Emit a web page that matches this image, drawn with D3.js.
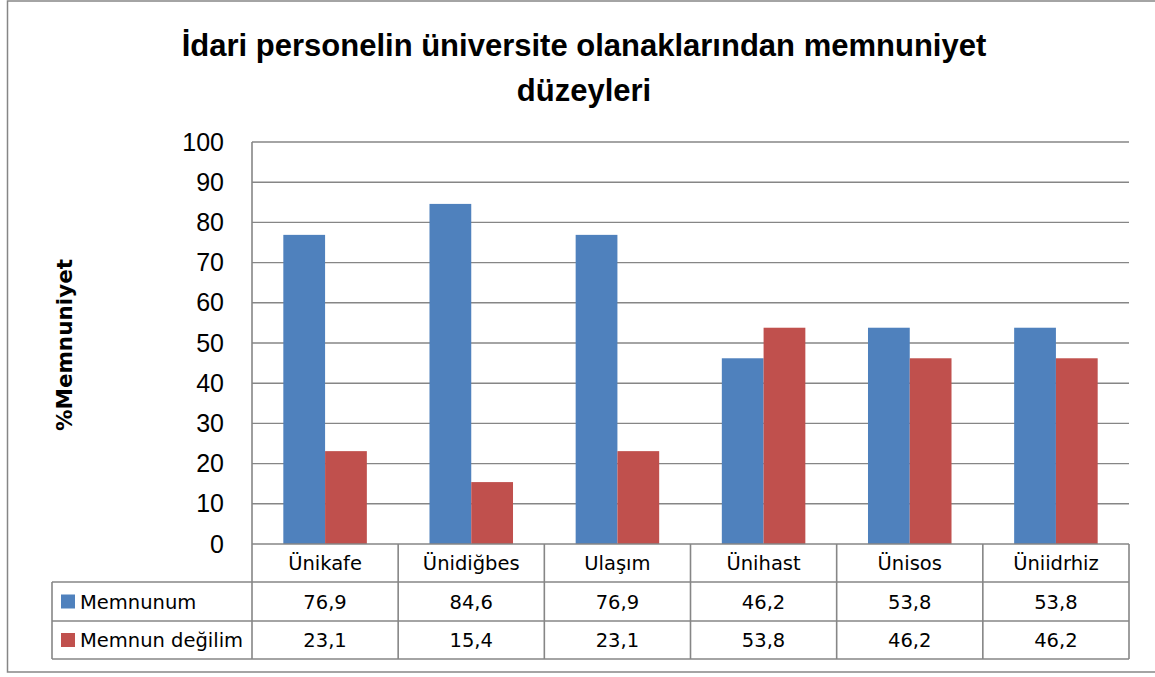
<!DOCTYPE html>
<html><head><meta charset="utf-8">
<script src="https://cdn.jsdelivr.net/npm/d3@7"></script>
<style>html,body{margin:0;padding:0;background:#fff;}svg{display:block;}</style>
</head><body>
<svg id="chart" width="1155" height="677"></svg>
<script>
const categories = ["Ünikafe", "Ünidiğbes", "Ulaşım", "Ünihast", "Ünisos", "Üniidrhiz"];
const seriesNames = ["Memnunum", "Memnun değilim"];
const memnunum = [76.9, 84.6, 76.9, 46.2, 53.8, 53.8];
const memnunDegilim = [23.1, 15.4, 23.1, 53.8, 46.2, 46.2];
const yTicks = [0, 10, 20, 30, 40, 50, 60, 70, 80, 90, 100];
const titleLines = ["İdari personelin üniversite olanaklarından memnuniyet", "düzeyleri"];
const yLabel = "%Memnuniyet";
const colors = ["#4F81BD", "#C0504D"];

const series = [memnunum, memnunDegilim];
const svg = d3.select("#chart");
const grid = "#868686";
const font = "'Liberation Sans', Arial, sans-serif";
const font2 = "'DejaVu Sans', sans-serif";
const L = 252, R = 1129, T = 142, B = 544;
const tableLeft = 52, rowEdges = [544, 582, 621, 659];

// outer border
svg.append("rect").attr("x", 7.5).attr("y", 1).attr("width", 1160).attr("height", 671)
  .attr("fill", "none").attr("stroke", grid).attr("stroke-width", 1.5);

// title
svg.append("g").selectAll("text").data(titleLines).join("text")
  .attr("x", 584).attr("y", (d, i) => 56 + i * 45)
  .attr("text-anchor", "middle").attr("font-family", font).attr("font-weight", "bold")
  .attr("font-size", 31).attr("fill", "#000").text(d => d);

const x = d3.scaleBand().domain(categories).range([L, R]).paddingInner(0).paddingOuter(0);
const bw = x.bandwidth() / 3.5;
const y = d3.scaleLinear().domain([0, 100]).range([B, T]);

// gridlines
svg.append("g").selectAll("line").data(yTicks.filter(t => t > 0)).join("line")
  .attr("x1", L).attr("x2", R).attr("y1", d => y(d)).attr("y2", d => y(d))
  .attr("stroke", grid).attr("stroke-width", 1.4);

// y axis
const yAxis = svg.append("g").attr("transform", `translate(${L},0)`)
  .call(d3.axisLeft(y).tickValues(yTicks).tickSize(0).tickPadding(28));
yAxis.select(".domain").remove();
yAxis.selectAll("text").attr("font-family", font).attr("font-size", 25).attr("fill", "#000");

// bars
series.forEach((vals, si) => {
  svg.append("g").selectAll("rect").data(vals).join("rect")
    .attr("x", (d, i) => x(categories[i]) + bw * 0.75 + si * bw)
    .attr("y", d => y(d)).attr("width", bw).attr("height", d => y(0) - y(d))
    .attr("fill", colors[si]);
});

// axis lines & table
const tg = svg.append("g").attr("stroke", grid).attr("stroke-width", 1.6);
tg.append("line").attr("x1", L).attr("x2", L).attr("y1", T).attr("y2", rowEdges[3]);
tg.append("line").attr("x1", L).attr("x2", R).attr("y1", B).attr("y2", B);
categories.forEach(c => {
  tg.append("line").attr("x1", x(c) + x.bandwidth()).attr("x2", x(c) + x.bandwidth())
    .attr("y1", B).attr("y2", rowEdges[3]);
});
[1, 2, 3].forEach(k => {
  tg.append("line").attr("x1", tableLeft).attr("x2", R).attr("y1", rowEdges[k]).attr("y2", rowEdges[k]);
});
tg.append("line").attr("x1", tableLeft).attr("x2", tableLeft).attr("y1", rowEdges[1]).attr("y2", rowEdges[3]);

// category labels
svg.append("g").selectAll("text").data(categories).join("text")
  .attr("x", d => x(d) + x.bandwidth() / 2).attr("y", (rowEdges[0] + rowEdges[1]) / 2 + 7)
  .attr("text-anchor", "middle").attr("font-family", font2).attr("font-size", 19.5).text(d => d);

const loc = d3.formatLocale({decimal: ",", thousands: ".", grouping: [3], currency: ["", ""]});
const fmt = loc.format(".1f");
series.forEach((vals, si) => {
  const cy = (rowEdges[si + 1] + rowEdges[si + 2]) / 2;
  svg.append("rect").attr("x", 61).attr("y", cy - 7).attr("width", 14).attr("height", 14).attr("fill", colors[si]);
  svg.append("text").attr("x", 80).attr("y", cy + 7).attr("font-family", font2).attr("font-size", 19.5).text(seriesNames[si]);
  svg.append("g").selectAll("text").data(vals).join("text")
    .attr("x", (d, i) => x(categories[i]) + x.bandwidth() / 2).attr("y", cy + 7)
    .attr("text-anchor", "middle").attr("font-family", font2).attr("font-size", 19.5).text(d => fmt(d));
});

// y label
svg.append("text").attr("transform", `translate(72,${(T + B) / 2 + 2}) rotate(-90)`)
  .attr("text-anchor", "middle").attr("font-family", font2).attr("font-weight", "bold")
  .attr("font-size", 21.5).text(yLabel);
</script>
</body></html>
